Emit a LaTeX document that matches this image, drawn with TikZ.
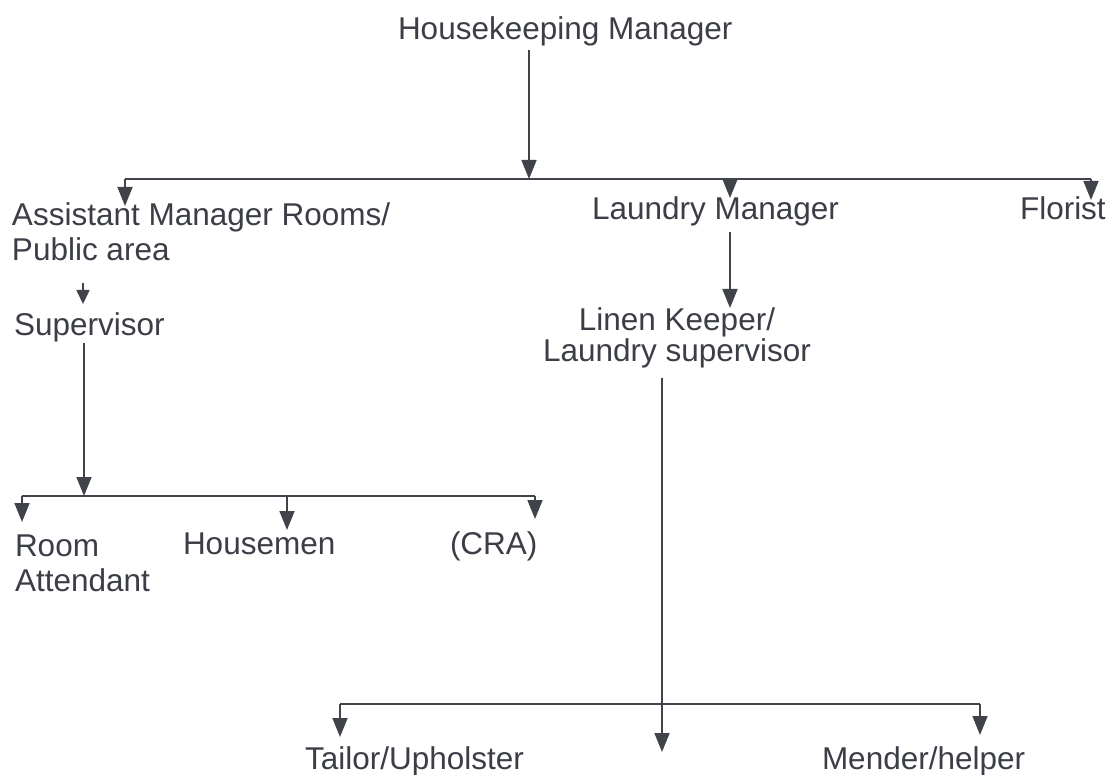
\documentclass[tikz,border=0pt]{standalone}
\usepackage{fontspec}
\setmainfont{Liberation Sans}
\usetikzlibrary{arrows.meta}
\definecolor{ink}{HTML}{3B3E46}
\definecolor{wire}{HTML}{404349}
\begin{document}
\begin{tikzpicture}[x=1pt,y=-1pt,
  lbl/.style={inner sep=0pt, outer sep=0pt, text=ink, anchor=base west,
    font=\fontsize{31.5}{35}\selectfont},
  link/.style={draw=wire, line width=1.6pt},
  arr/.style={link, -{Triangle[width=15pt,length=19pt]}},
  arrsmall/.style={link, -{Triangle[width=13pt,length=14pt]}}]
\useasboundingbox[fill=white] (0,0) rectangle (1111,775);

% text nodes (multi-line nodes: base = baseline of last line)
\node[lbl] (hm) at (398,40) {Housekeeping Manager};
\node[lbl, align=left] (am) at (12,261) {Assistant Manager Rooms/\\Public area};
\node[lbl] (lm) at (592,220) {Laundry Manager};
\node[lbl] (fl) at (1020,220) {Florist};
\node[lbl] (sv) at (14,336) {Supervisor};
\node[lbl, align=center, anchor=base] (lk) at (677,362) {Linen Keeper/\\[-4pt]Laundry supervisor};
\node[lbl, align=left] (ra) at (15,591) {Room\\Attendant};
\node[lbl] (hs) at (183,554) {Housemen};
\node[lbl] (cra) at (450,554) {(CRA)};
\node[lbl] (tu) at (305,769) {Tailor/Upholster};
\node[lbl] (mh) at (822,769) {Mender/helper};

% junction coordinates
\coordinate (hmS) at (529,50);
\coordinate (top) at (529,179);
\coordinate (topL) at (125,179);
\coordinate (topR) at (1091,179);
\coordinate (amT) at (125,206);
\coordinate (lmT) at (730,198);
\coordinate (flT) at (1091,200);
\coordinate (lmS) at (730,232);
\coordinate (lkT) at (730,308);
\coordinate (amS) at (83,283);
\coordinate (svT) at (83,304);
\coordinate (svS) at (84,343);
\coordinate (mid) at (84,496);
\coordinate (midL) at (22,496);
\coordinate (midR) at (535,496);
\coordinate (raT) at (22,522);
\coordinate (hsT) at (287,530);
\coordinate (craT) at (535,519);
\coordinate (lkS) at (662,378);
\coordinate (bot) at (662,704);
\coordinate (botL) at (340,704);
\coordinate (botR) at (980,704);
\coordinate (lkE) at (662,752);
\coordinate (tuT) at (340,737);
\coordinate (mhT) at (980,735);

% connectors
\draw[arr] (hmS) -- (top);
\draw[link] (topL) -- (topR);
\draw[arr] (topL) -- (amT);
\draw[arr] (lmT |- topL) -- (lmT);
\draw[arr] (topR) -- (flT);
\draw[arr] (lmS) -- (lkT);
\draw[arrsmall] (amS) -- (svT);
\draw[arr] (svS) -- (mid);
\draw[link] (midL) -- (midR);
\draw[arr] (midL) -- (raT);
\draw[arr] (hsT |- midL) -- (hsT);
\draw[arr] (midR) -- (craT);
\draw[arr] (lkS) -- (lkE);
\draw[link] (botL) -- (botR);
\draw[arr] (botL) -- (tuT);
\draw[arr] (botR) -- (mhT);
\end{tikzpicture}
\end{document}
